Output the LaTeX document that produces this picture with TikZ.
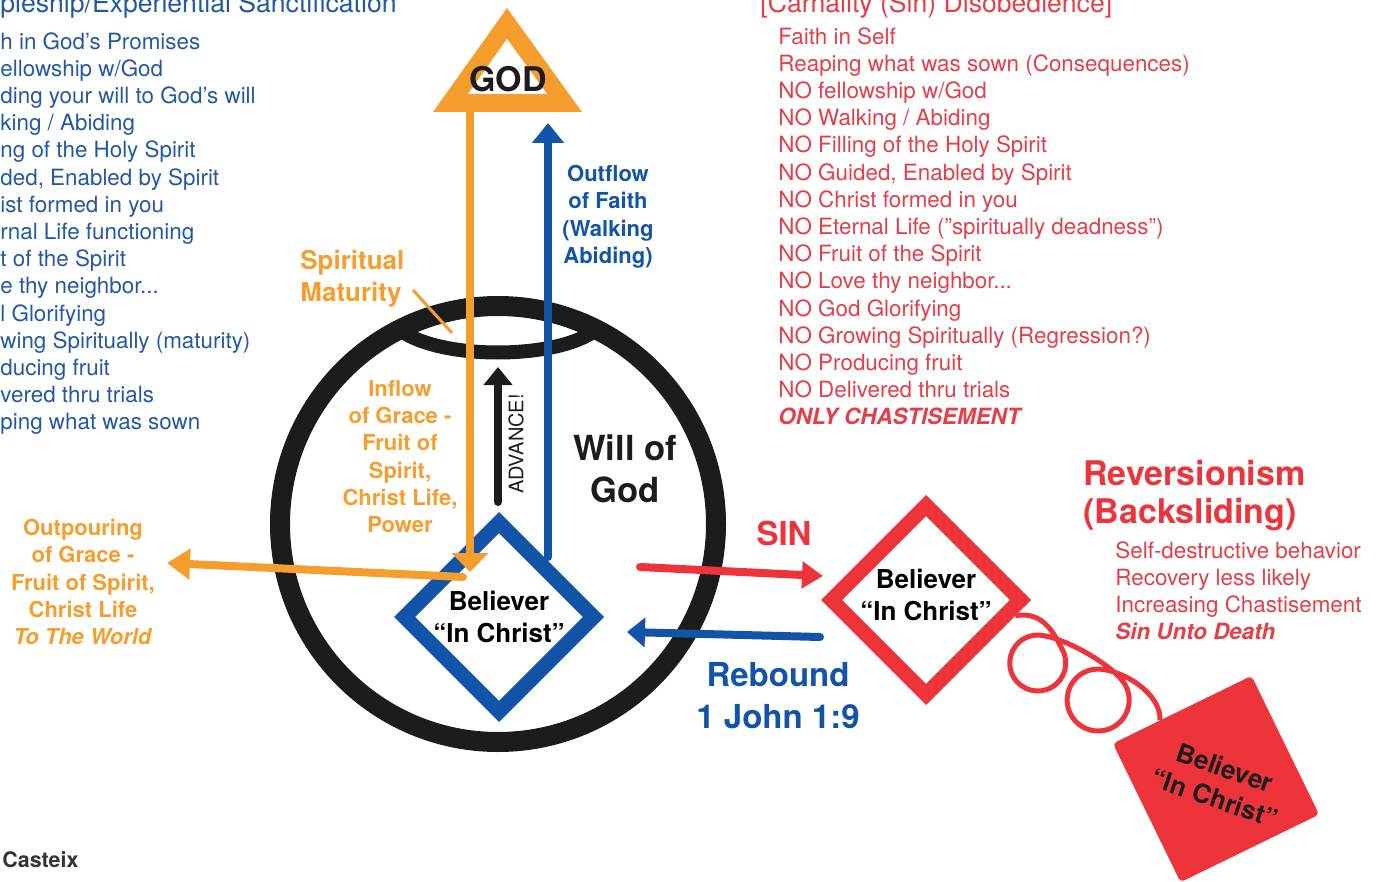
\documentclass[tikz,border=0pt]{standalone}
\usepackage{fontspec}
\setmainfont{TeX Gyre Heros}
\usetikzlibrary{arrows.meta,shapes.geometric,calc}
\definecolor{godorange}{RGB}{245,158,45}
\definecolor{faithblue}{RGB}{18,84,168}
\definecolor{listblue}{RGB}{35,88,165}
\definecolor{sinred}{RGB}{236,52,58}
\definecolor{listred}{RGB}{228,62,72}
\definecolor{ink}{RGB}{28,28,28}
\newcommand{\listfont}{\fontsize{11.2}{13.6}\selectfont}
\newcommand{\headfont}{\fontsize{13.3}{16}\selectfont}
\newcommand{\lblfont}{\fontsize{11}{13.6}\selectfont\bfseries}
\newcommand{\blvfont}{\fontsize{13}{16}\selectfont\bfseries}
\newcommand{\bigfont}{\fontsize{17.3}{21}\selectfont\bfseries}
\tikzset{
  head/.style={anchor=base west, inner sep=0pt, font=\headfont},
  listtext/.style={anchor=north west, inner sep=0pt, align=left, font=\listfont},
  lbl/.style={anchor=north, inner sep=0pt, align=center, font=\lblfont},
  ring/.style={circle, draw=ink, line width=10pt, minimum size=218pt, inner sep=0pt},
  believer/.style={diamond, draw=#1, line width=7.5pt, minimum size=97.5pt, inner sep=0pt, align=center, font=\blvfont},
  lostbox/.style={rectangle, fill=sinred, minimum size=77pt, inner sep=0pt, rounded corners=2pt, rotate=26},
  flow/.style={line width=4pt, line cap=round}
}

\begin{document}
\begin{tikzpicture}[x=0.5pt,y=-0.5pt]
\useasboundingbox (0,0) rectangle (1381,882);
\node[head, text=listblue] (yeshead) at (0,13) {pleship/Experiential Sanctification};
\node[listtext, text=listblue] (yeslist) at (0,32) {h in God’s Promises\\ellowship w/God\\ding your will to God’s will\\king / Abiding\\ng of the Holy Spirit\\ded, Enabled by Spirit\\ist formed in you\\rnal Life functioning\\t of the Spirit\\e thy neighbor...\\l Glorifying\\wing Spiritually (maturity)\\ducing fruit\\vered thru trials\\ping what was sown};
\node[head, text=listred] (nohead) at (760,13) {[Carnality (Sin) Disobedience]};
\node[listtext, text=listred] (nolist) at (778,27) {Faith in Self\\Reaping what was sown (Consequences)\\NO fellowship w/God\\NO Walking / Abiding\\NO Filling of the Holy Spirit\\NO Guided, Enabled by Spirit\\NO Christ formed in you\\NO Eternal Life (”spiritually deadness”)\\NO Fruit of the Spirit\\NO Love thy neighbor...\\NO God Glorifying\\NO Growing Spiritually (Regression?)\\NO Producing fruit\\NO Delivered thru trials\\\textbf{\textit{ONLY CHASTISEMENT}}};

\fill[godorange] (507,8) -- (582,112) -- (433,112) -- cycle;
\fill[white] (507,39) -- (547,94) -- (468,94) -- cycle;
\node[anchor=base, inner sep=0pt, font=\fontsize{17}{20}\selectfont\bfseries, text=ink] (god) at (508,92) {GOD};

\node[ring] (will) at (498,524) {};
\draw[ink, line width=7pt] (400,330) .. controls (440,360) and (556,360) .. (596,330);
\node[anchor=north, inner sep=0pt, align=center, font=\bigfont, text=ink] (willtext) at (625,434) {Will of\\God};

\node[believer=faithblue] (believer) at (499,617) {Believer\\“In Christ”};
\node[believer=sinred] (sinner) at (926,600) {Believer\\“In Christ”\rule[-5pt]{0pt}{0pt}};

\node[lostbox] (lost) at (1216,779) {};
\coordinate (coilstart) at ($(sinner.east)!0.15!(sinner.south)$);
\coordinate (coilend) at ($(lost.north west)!0.34!(lost.north east)$);
\draw[sinred, line width=2.5pt] (coilstart) .. controls (1045,610) and (1056,638) .. (1062,649)
  arc[start angle=-30, end angle=280, radius=28]
  .. controls (1070,640) and (1115,667) .. (1125,684.5)
  arc[start angle=-30, end angle=280, radius=31]
  .. controls (1135,675) and (1162,700) .. (coilend);
\node[lostbox] (lostfront) at (lost.center) {};
\node[rotate=-19, inner sep=0pt, align=center, font=\blvfont, text=ink] (losttext) at (1220,783) {Believer\\“In Christ”};

\coordinate (inflowtop) at (470,112);
\coordinate (inflowtip) at (470,572);
\coordinate (outflowfoot) at (548,557);
\coordinate (outflowtip) at (548,123);
\coordinate (advfoot) at (498,502);
\coordinate (advtip) at (498,367);
\coordinate (pourfoot) at (463,577);
\coordinate (pourtip) at (167,563);
\coordinate (sinfoot) at (640,567);
\coordinate (sintip) at (823,576);
\coordinate (rebfoot) at (820,637);
\coordinate (rebtip) at (627,632);
\coordinate (matpt) at (413,290);
\coordinate (lenspt) at (452,333);

\draw[flow, faithblue, -{Triangle[length=10pt,width=15.5pt]}] (outflowfoot) -- (outflowtip);
\draw[flow, ink, -{Triangle[length=9pt,width=14pt]}] (advfoot) -- (advtip);
\draw[flow, godorange, -{Triangle[length=11.5pt,width=15pt]}] (pourfoot) -- (pourtip);
\draw[flow, godorange, -{Triangle[length=9.5pt,width=18pt]}] (inflowtop) -- (inflowtip);
\draw[flow, sinred, -{Triangle[length=10.5pt,width=13pt]}] (sinfoot) -- (sintip);
\draw[flow, faithblue, -{Triangle[length=9pt,width=14.5pt]}] (rebfoot) -- (rebtip);
\draw[godorange, line width=1.5pt] (matpt) -- (lenspt);

\node[rotate=90, inner sep=0pt, font=\fontsize{10}{12}\selectfont, text=ink] (advtext) at (516,444) {ADVANCE!};
\node[anchor=north west, inner sep=0pt, align=left, font=\fontsize{13}{16}\selectfont\bfseries, text=godorange] (maturity) at (300,250) {Spiritual\\Maturity};
\node[lbl, text=godorange] (inflow) at (400,380) {Inflow\\of Grace -\\Fruit of\\Spirit,\\Christ Life,\\Power};
\node[lbl, text=godorange] (outpour) at (83,519) {Outpouring\\of Grace -\\Fruit of Spirit,\\Christ Life\\\textit{To The World}};
\node[lbl, text=faithblue] (outflow) at (608,165) {Outflow\\of Faith\\(Walking\\Abiding)};
\node[anchor=base, inner sep=0pt, font=\fontsize{16.5}{20}\selectfont\bfseries, text=sinred] (sinlbl) at (784,545) {SIN};
\node[anchor=north, inner sep=0pt, align=center, font=\fontsize{16.5}{21}\selectfont\bfseries, text=faithblue] (rebound) at (778,662) {Rebound\\1 John 1:9};
\node[anchor=north west, inner sep=0pt, align=left, font=\fontsize{17}{19}\selectfont\bfseries, text=sinred] (reversion) at (1083,460) {Reversionism\\(Backsliding)};
\node[listtext, text=listred] (revlist) at (1115,541) {Self-destructive behavior\\Recovery less likely\\Increasing Chastisement\\\textbf{\textit{Sin Unto Death}}};
\node[anchor=base west, inner sep=0pt, font=\fontsize{10.7}{13}\selectfont\bfseries, text=ink!90] (author) at (2,867) {Casteix};
\end{tikzpicture}
\end{document}
